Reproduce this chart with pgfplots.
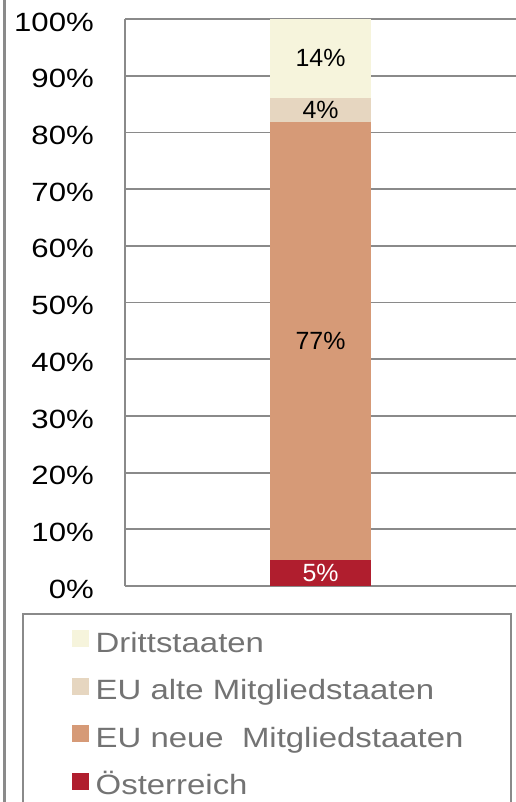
\documentclass[border=0pt]{standalone}
\usepackage{fontspec}
\setmainfont{Liberation Sans}
\newfontfamily\wide{Liberation Sans}[FakeStretch=1.18]
\usepackage{pgfplots}
\usepackage{pgfplotstable}
\pgfplotsset{compat=1.18}
\definecolor{cDritt}{HTML}{F6F4DC}
\definecolor{cAlt}{HTML}{E6D6C0}
\definecolor{cNeu}{HTML}{D69A77}
\definecolor{cOe}{HTML}{B01E2E}
\definecolor{cFrame}{HTML}{8A8A8A}
\definecolor{cLegText}{HTML}{737373}

\pgfplotstableread{
x y lab
1 4.6 5
}\tabOe
\pgfplotstableread{
x y lab
1 77.2 77
}\tabNeu
\pgfplotstableread{
x y lab
1 4.3 4
}\tabAlt
\pgfplotstableread{
x y lab
1 13.9 14
}\tabDritt

\begin{document}
\begin{tikzpicture}[x=1bp,y=1bp]
\useasboundingbox (0,0) rectangle (516,-802);
\begin{scope}
\clip (0,0) rectangle (516,-802);
\draw[cFrame, line width=2.8bp] (4.5,10) -- (4.5,-812);
\draw[cFrame, line width=2.4bp] (23,-614) rectangle (511,-840);
\begin{axis}[
  at={(125bp,-586bp)}, anchor=south west,
  scale only axis, width=391bp, height=567bp,
  ybar stacked, bar width=101bp,
  xmin=0, xmax=2, ymin=0, ymax=100,
  xtick=\empty,
  ytick={0,10,...,100},
  yticklabel={\pgfmathprintnumber{\tick}\%},
  /pgf/number format/assume math mode=true,
  major tick length=0pt,
  ymajorgrids,
  major grid style={draw=cFrame, line width=1.8bp},
  axis x line*=bottom, axis y line*=left,
  axis line style={-, draw=cFrame, line width=2.4bp},
  every outer x axis line/.append style={-},
  every outer y axis line/.append style={-},
  tick label style={font=\wide\fontsize{26.5}{26.5}\selectfont, text=black},
  yticklabel style={anchor=east, inner sep=0pt, xshift=-31bp, yshift=-3bp},
  point meta=explicit,
  nodes near coords={\pgfmathprintnumber{\pgfplotspointmeta}\%},
  every node near coord/.append style={anchor=center, inner sep=0pt,
     font=\fontsize{25}{25}\selectfont, text=black},
  reverse legend,
  legend cell align=left,
  legend image code/.code={\fill[#1] (0bp,-2bp) rectangle (17bp,15bp);},
  legend style={at={(rel axis cs:-0.1363,-0.0776)}, anchor=north west,
     draw=none, fill=none, inner sep=0pt, outer sep=0pt,
     row sep=18.5bp, column sep=7bp,
     font=\wide\fontsize{28}{28}\selectfont, text=cLegText,
     nodes={inner sep=0pt, text height=21bp, text depth=7bp}},
]
\addplot[fill=cOe, draw=none, every node near coord/.append style={text=white}] table[x=x, y=y, meta=lab] {\tabOe};
\addlegendentry{Österreich}
\addplot[fill=cNeu, draw=none] table[x=x, y=y, meta=lab] {\tabNeu};
\addlegendentry{EU neue\ \ Mitgliedstaaten}
\addplot[fill=cAlt, draw=none] table[x=x, y=y, meta=lab] {\tabAlt};
\addlegendentry{EU alte Mitgliedstaaten}
\addplot[fill=cDritt, draw=none] table[x=x, y=y, meta=lab] {\tabDritt};
\addlegendentry{Drittstaaten}
\end{axis}
\end{scope}
\end{tikzpicture}
\end{document}
